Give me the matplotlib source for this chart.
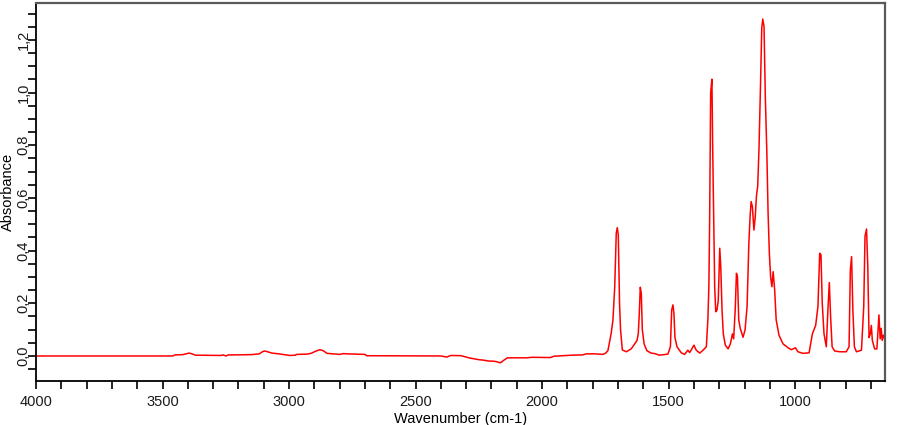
import matplotlib
matplotlib.use("Agg")
import matplotlib.pyplot as plt
from matplotlib.ticker import MultipleLocator, FuncFormatter

plt.rcParams['font.family'] = ['Liberation Sans', 'DejaVu Sans']

wavenumber = [
    4000, 3460, 3450, 3420, 3395, 3380, 3370, 3270, 3260, 3250, 3240, 3231, 3150, 3118,
    3105, 3097, 3085, 3068, 3040, 3010, 2998, 2975, 2970, 2930, 2913, 2895, 2878, 2865,
    2850, 2800, 2786, 2770, 2700, 2694, 2400, 2377, 2360, 2320, 2300, 2285, 2250, 2230,
    2214, 2190, 2179, 2165, 2151, 2137, 2060, 2040, 1967, 1953, 1883, 1840, 1826, 1790,
    1760, 1750, 1740, 1727, 1720, 1713, 1707, 1703, 1699, 1694, 1690, 1683, 1667, 1648,
    1634, 1625, 1620, 1616, 1612, 1608, 1604, 1597, 1586, 1569, 1555, 1536, 1503, 1493,
    1488, 1483, 1479, 1475, 1467, 1450, 1437, 1424, 1417, 1410, 1400, 1391, 1377, 1364,
    1351, 1345, 1341, 1338, 1334, 1329, 1326, 1322, 1318, 1314, 1309, 1304, 1298, 1294,
    1289, 1284, 1276, 1265, 1256, 1248, 1243, 1237, 1232, 1228, 1223, 1217, 1206, 1198,
    1190, 1183, 1178, 1174, 1169, 1163, 1158, 1153, 1148, 1143, 1137, 1132, 1128, 1123,
    1118, 1112, 1107, 1102, 1097, 1092, 1087, 1081, 1075, 1064, 1048, 1028, 1015, 999,
    989, 969, 945, 932, 919, 910, 903, 898, 893, 886, 877, 870, 865, 860, 854, 844, 824,
    798, 787, 782, 777, 772, 766, 758, 738, 729, 724, 718, 713, 708, 703, 699, 695, 686,
    677, 669, 664, 660, 656, 651, 648,
]
absorbance = [
    0.0, 0.0, 0.004, 0.005, 0.011, 0.007, 0.003, 0.002, 0.004, 0.0, 0.004, 0.004, 0.005, 0.008,
    0.016, 0.019, 0.016, 0.011, 0.008, 0.004, 0.002, 0.003, 0.006, 0.007, 0.010, 0.018, 0.024, 0.020,
    0.010, 0.006, 0.009, 0.008, 0.006, 0.001, 0.0, -0.004, 0.002, 0.001, -0.004, -0.008, -0.014, -0.016,
    -0.019, -0.020, -0.022, -0.026, -0.016, -0.007, -0.007, -0.005, -0.006, -0.001, 0.003, 0.004, 0.008, 0.008,
    0.006, 0.010, 0.020, 0.086, 0.137, 0.263, 0.466, 0.487, 0.460, 0.200, 0.099, 0.023, 0.016, 0.027,
    0.046, 0.059, 0.084, 0.160, 0.261, 0.237, 0.100, 0.046, 0.020, 0.011, 0.009, 0.003, 0.007, 0.035,
    0.174, 0.194, 0.160, 0.070, 0.035, 0.012, 0.006, 0.022, 0.013, 0.024, 0.041, 0.022, 0.011, 0.022,
    0.035, 0.137, 0.263, 0.510, 0.998, 1.051, 0.795, 0.520, 0.263, 0.168, 0.174, 0.210, 0.409, 0.339,
    0.174, 0.084, 0.041, 0.027, 0.046, 0.084, 0.065, 0.174, 0.314, 0.300, 0.137, 0.105, 0.071, 0.099,
    0.188, 0.428, 0.532, 0.586, 0.567, 0.478, 0.525, 0.607, 0.645, 0.785, 1.026, 1.245, 1.279, 1.250,
    0.985, 0.776, 0.542, 0.390, 0.300, 0.263, 0.320, 0.250, 0.137, 0.079, 0.046, 0.031, 0.024, 0.031,
    0.016, 0.010, 0.012, 0.084, 0.116, 0.188, 0.390, 0.384, 0.200, 0.084, 0.035, 0.188, 0.279, 0.150, 0.035, 0.019, 0.016,
    0.016, 0.035, 0.326, 0.377, 0.174, 0.035, 0.016, 0.022, 0.188, 0.455, 0.482, 0.339, 0.070, 0.084, 0.116, 0.059, 0.027,
    0.027, 0.156, 0.065, 0.105, 0.059, 0.079, 0.070,
]

x_label = "Wavenumber (cm-1)"
y_label = "Absorbance"

fig = plt.figure(figsize=(9, 4.25), dpi=100)
ax = fig.add_axes([36 / 900, 1 - 381 / 425, (885 - 36) / 900, (381 - 3) / 425])

ax.plot(wavenumber, absorbance, color='#ff0000', linewidth=1.1)

ax.set_xlim(4000, 645)
ax.set_ylim(-0.095, 1.34)

ax.xaxis.set_major_locator(MultipleLocator(500))
ax.xaxis.set_minor_locator(MultipleLocator(100))
ax.yaxis.set_major_locator(MultipleLocator(0.2))
ax.yaxis.set_minor_locator(MultipleLocator(0.05))
ax.yaxis.set_major_formatter(FuncFormatter(lambda v, p: f"{v:.1f}".replace('.', ',').replace('-0,0', '0,0')))

ax.tick_params(axis='both', which='both', direction='out', length=6, width=1.2, color='black',
               labelsize=10.5, labelcolor='#1a1a1a')
ax.tick_params(axis='x', which='major', pad=4)
ax.tick_params(axis='y', which='major', pad=-2)
for lab in ax.get_yticklabels():
    lab.set_rotation(90)
    lab.set_va('center')

for s in ('left', 'bottom'):
    ax.spines[s].set_color('black')
    ax.spines[s].set_linewidth(1.3)
for s in ('top', 'right'):
    ax.spines[s].set_color('#5a5a5a')
    ax.spines[s].set_linewidth(1.6)

ax.set_xlabel(x_label, fontsize=10.5, labelpad=2)
ax.set_ylabel(y_label, fontsize=10.5, labelpad=0)
ax.yaxis.set_label_coords(-21 / 849, 0.5)

fig.savefig("out.png", dpi=100)
